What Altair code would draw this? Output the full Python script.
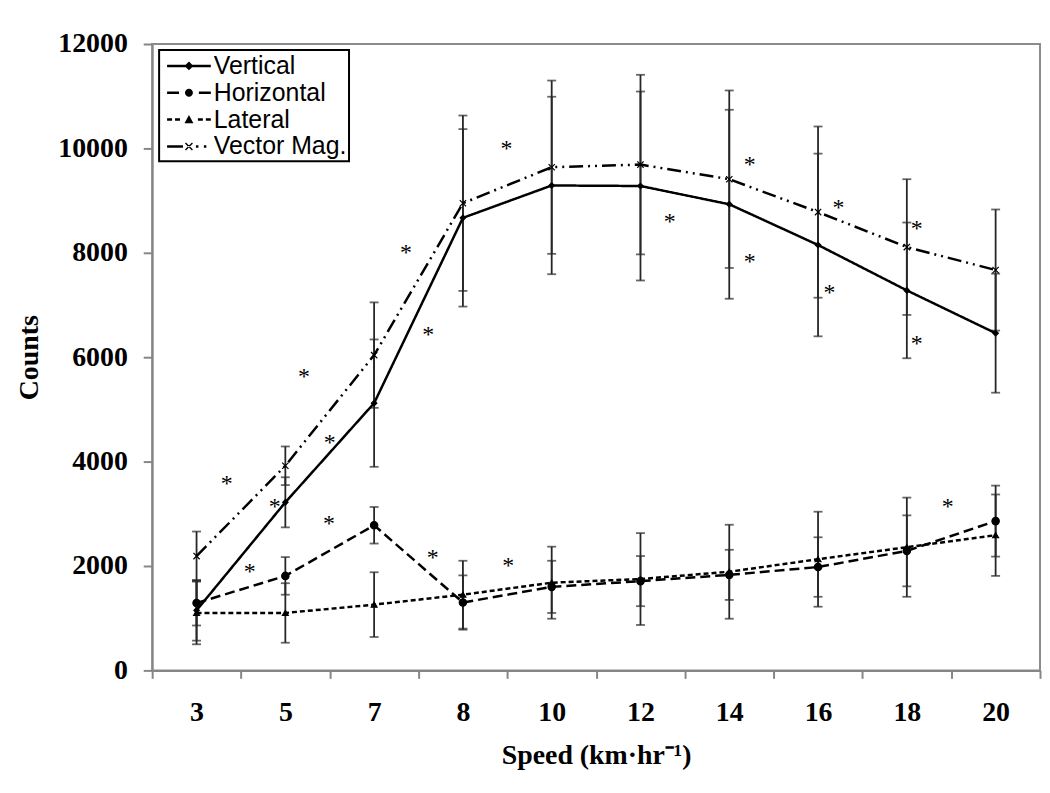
import altair as alt
import pandas as pd

# ---------------- data ----------------
speeds = ["3", "5", "7", "8", "10", "12", "14", "16", "18", "20"]
series_names = ["Vertical", "Horizontal", "Lateral", "Vector Mag."]

vertical = [1150, 3220, 5120, 8670, 9290, 9280, 8930, 8150, 7280, 6460]
vertical_sd = [580, 480, 1220, 1700, 1700, 1810, 1810, 1750, 1300, 1140]

horizontal = [1290, 1810, 2780, 1300, 1600, 1710, 1830, 1980, 2290, 2860]
horizontal_sd = [430, 360, 350, 520, 500, 480, 480, 570, 680, 680]

lateral = [1100, 1100, 1260, 1450, 1680, 1750, 1890, 2130, 2360, 2590]
lateral_sd = [600, 570, 620, 650, 690, 880, 900, 910, 950, 780]

vector_mag = [2190, 3920, 6040, 8950, 9640, 9690, 9410, 8780, 8110, 7670]
vector_mag_sd = [470, 370, 1010, 1680, 1660, 1720, 1700, 1640, 1300, 1160]

# significance asterisks (x in category-slot units, y in counts)
ast_x = [0.84, 1.10, 1.38, 1.99, 2.00, 1.71, 2.86, 3.11, 3.16, 4.01,
         3.99, 5.83, 6.73, 6.73, 7.73, 7.63, 8.61, 8.61, 8.96]
ast_y = [3640, 1960, 3200, 2880, 4440, 5700, 8080, 6500, 2230, 2080,
         10060, 8670, 9750, 7890, 8930, 7300, 8530, 6330, 3200]

# ---------------- tables ----------------
means = [vertical, horizontal, lateral, vector_mag]
sds = [vertical_sd, horizontal_sd, lateral_sd, vector_mag_sd]
rows = []
for name, m, s in zip(series_names, means, sds):
    for i, (v, e) in enumerate(zip(m, s)):
        rows.append({"series": name, "pos": i + 0.5, "speed": speeds[i],
                     "value": v, "lo": v - e, "hi": v + e})
df = pd.DataFrame(rows)
ast_df = pd.DataFrame({"x": ast_x, "y": ast_y, "t": ["*"] * len(ast_x)})

dash_patterns = {"Vertical": [1, 0], "Horizontal": [10, 5], "Lateral": [5, 3],
                 "Vector Mag.": [14, 5, 2, 5, 2, 5]}
marker_shapes = {"Vertical": "diamond", "Horizontal": "circle", "Lateral": "triangle-up",
                 "Vector Mag.": "M-1,-1L1,1M-1,1L1,-1"}
marker_sizes = {"Vertical": 30, "Horizontal": 55, "Lateral": 35, "Vector Mag.": 40}

# ---------- legend glyphs (filled outlines; unit = 14 px) ----------
U = 14.0
H = 1.25  # half line thickness, px


def f(v):
    return f"{v / U:.3f}"


def seg(x0, x1):
    return f"M{f(x0)},{f(-H)}L{f(x1)},{f(-H)}L{f(x1)},{f(H)}L{f(x0)},{f(H)}Z"


def diamond(c, r):
    return f"M{f(c - r)},0L{f(c)},{f(-r)}L{f(c + r)},0L{f(c)},{f(r)}Z"


def circle(c, r):
    return (f"M{f(c + r)},0A{f(r)},{f(r)} 0 1,1 {f(c - r)},0"
            f"A{f(r)},{f(r)} 0 1,1 {f(c + r)},0Z")


def triangle(c, r):
    return f"M{f(c - r)},{f(r * 0.8)}L{f(c)},{f(-r)}L{f(c + r)},{f(r * 0.8)}Z"


def cross(c, a, t):
    d = t / 2 / 1.414
    p1 = (f"M{f(c - a - d)},{f(-a + d)}L{f(c - a + d)},{f(-a - d)}"
          f"L{f(c + a + d)},{f(a - d)}L{f(c + a - d)},{f(a + d)}Z")
    p2 = (f"M{f(c - a - d)},{f(a - d)}L{f(c - a + d)},{f(a + d)}"
          f"L{f(c + a + d)},{f(-a + d)}L{f(c + a - d)},{f(-a - d)}Z")
    return p1 + p2


legend_paths = [
    seg(-8, 36) + diamond(14, 4.5),
    seg(-8, 4) + circle(14, 4) + seg(24, 36),
    seg(-8, -3) + seg(0, 5) + triangle(14, 4.5) + seg(23, 28) + seg(31, 36),
    seg(-8, 8) + cross(14, 3.5, 1.4) + seg(21, 23.5) + seg(29, 31.5),
]

label_expr = ("datum.value % 1 == 0.5 ? " + str(speeds) +
              "[floor(datum.value)] : ''")

xscale = alt.Scale(domain=[0, 10], nice=False, zero=False)
yscale = alt.Scale(domain=[0, 12000], nice=False)

xaxis = alt.Axis(values=[i * 0.5 for i in range(21)], labelExpr=label_expr,
                 tickOpacity={"condition": {"test": "datum.value % 1 == 0", "value": 1}, "value": 0},
                 tickSize=8, labelPadding=20, titlePadding=16, grid=False)
yaxis = alt.Axis(values=list(range(0, 12001, 2000)), format="d", tickSize=9,
                 labelPadding=16, titlePadding=14, grid=False)

base = alt.Chart(df)

X = alt.X("pos:Q", scale=xscale, axis=xaxis, title="Speed (km·hr⁻¹)")

# error bars
err_rule = base.mark_rule(color="#262626", strokeWidth=1.8).encode(
    x=X,
    y=alt.Y("lo:Q", scale=yscale, axis=yaxis, title="Counts"),
    y2="hi:Q",
)
cap_lo = base.mark_tick(color="#262626", orient="horizontal", size=9, thickness=1.8).encode(
    x="pos:Q", y="lo:Q")
cap_hi = base.mark_tick(color="#262626", orient="horizontal", size=9, thickness=1.8).encode(
    x="pos:Q", y="hi:Q")

layers = [err_rule, cap_lo, cap_hi]

for name in series_names:
    sub = alt.Chart(df[df.series == name])
    layers.append(sub.mark_line(color="black", strokeWidth=2.5,
                                strokeDash=dash_patterns[name]).encode(
        x="pos:Q", y="value:Q"))
for name in series_names:
    sub = alt.Chart(df[df.series == name])
    layers.append(sub.mark_point(filled=True, color="black", stroke="black",
                                 strokeWidth=1.2, opacity=1,
                                 shape=marker_shapes[name],
                                 size=marker_sizes[name]).encode(
        x="pos:Q", y="value:Q"))

# asterisks (text)
layers.append(alt.Chart(ast_df).mark_text(font="Liberation Serif", fontSize=24,
                                          color="black", baseline="alphabetic",
                                          dy=11).encode(
    x="x:Q", y="y:Q", text="t:N"))

# legend-only layer (marks are clipped away, legend remains)
legend_df = pd.DataFrame({"series": series_names})
legend_layer = alt.Chart(legend_df).mark_point(
    filled=True, color="black", opacity=1, clip=True
).encode(
    x=alt.value(-500), y=alt.value(-500),
    shape=alt.Shape("series:N", scale=alt.Scale(domain=series_names, range=legend_paths),
                    legend=alt.Legend(title=None, symbolFillColor="black",
                                      symbolStrokeWidth=0)),
)
layers.append(legend_layer)

chart = alt.layer(*layers).properties(
    width=893, height=630,
    autosize=alt.AutoSizeParams(type="none"),
    padding={"left": 145, "top": 34, "right": 2, "bottom": 104},
).configure_view(
    stroke="#8c8c8c", strokeWidth=2
).configure_axis(
    domainColor="#868686", domainWidth=2, tickColor="#868686", tickWidth=2,
    labelFont="Liberation Serif", labelFontWeight="bold", labelFontSize=28,
    labelColor="black", titleFont="Liberation Serif", titleFontWeight="bold",
    titleFontSize=28, titleColor="black",
).configure_legend(
    orient="none", legendX=7, legendY=6,
    fillColor="white", strokeColor="black", strokeWidth=2, padding=2,
    labelFont="Liberation Sans", labelFontSize=25, labelColor="black",
    symbolSize=784, rowPadding=0, labelOffset=25,
)

chart.save("out.html", embed_options={"renderer": "svg", "actions": False})
